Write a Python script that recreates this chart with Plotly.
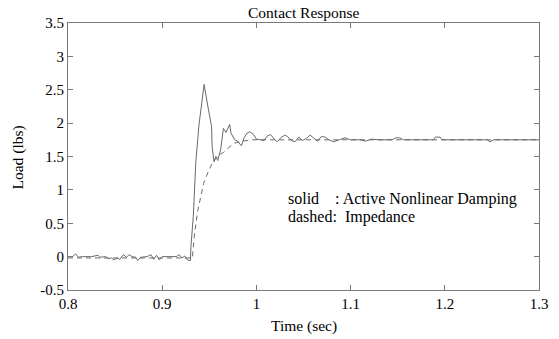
import plotly.graph_objects as go

# Solid: Active Nonlinear Damping
t_solid = [0.800, 0.805, 0.808, 0.811, 0.815, 0.825, 0.832, 0.834, 0.840, 0.843,
           0.846, 0.849, 0.852, 0.855, 0.859, 0.862, 0.865, 0.868, 0.872, 0.874,
           0.877, 0.884, 0.888, 0.891, 0.894, 0.897, 0.900, 0.910, 0.915, 0.918,
           0.921, 0.924, 0.927, 0.930, 0.9305, 0.933, 0.9357, 0.939, 0.9445, 0.9485,
           0.9524, 0.953, 0.955, 0.957, 0.959, 0.962, 0.965, 0.9677, 0.9716, 0.973,
           0.977, 0.980, 0.984, 0.987, 0.990, 0.993, 0.997, 1.000, 1.004, 1.008,
           1.011, 1.015, 1.019, 1.022, 1.026, 1.030, 1.033, 1.037, 1.041, 1.045,
           1.049, 1.053, 1.057, 1.061, 1.065, 1.069, 1.073, 1.077, 1.082, 1.088,
           1.094, 1.100, 1.110, 1.116, 1.122, 1.130, 1.144, 1.148, 1.152, 1.156,
           1.188, 1.190, 1.195, 1.197, 1.245, 1.248, 1.252, 1.300]
v_solid = [0.00, 0.00, 0.04, -0.01, 0.00, 0.00, 0.02, -0.01, 0.00, -0.03,
           -0.02, -0.05, -0.02, -0.04, 0.03, -0.01, 0.03, 0.00, -0.01, -0.06,
           -0.01, 0.00, 0.03, -0.04, 0.02, -0.05, 0.00, 0.00, 0.00, 0.03,
           -0.02, 0.01, -0.05, -0.06, 0.15, 0.60, 1.42, 1.97, 2.58, 2.25,
           1.95, 1.65, 1.42, 1.50, 1.44, 1.60, 1.92, 1.86, 1.98, 1.85,
           1.75, 1.73, 1.66, 1.78, 1.85, 1.87, 1.83, 1.76, 1.75, 1.74,
           1.80, 1.83, 1.76, 1.72, 1.78, 1.82, 1.80, 1.74, 1.72, 1.79,
           1.74, 1.77, 1.82, 1.78, 1.73, 1.80, 1.79, 1.75, 1.72, 1.75,
           1.78, 1.75, 1.75, 1.73, 1.76, 1.75, 1.75, 1.78, 1.78, 1.75,
           1.75, 1.79, 1.79, 1.75, 1.75, 1.72, 1.75, 1.75]

# Dashed: Impedance
t_dashed = [0.800, 0.932, 0.934, 0.9375, 0.9417, 0.944, 0.9497, 0.954, 0.960,
            0.965, 0.972, 0.977, 0.985, 0.995, 1.300]
v_dashed = [-0.02, -0.02, 0.30, 0.67, 0.95, 1.10, 1.30, 1.42, 1.52,
            1.56, 1.65, 1.70, 1.73, 1.75, 1.75]

x_ticks = [0.8, 0.9, 1.0, 1.1, 1.2, 1.3]
x_ticktext = ["0.8", "0.9", "1", "1.1", "1.2", "1.3"]
y_ticks = [-0.5, 0, 0.5, 1, 1.5, 2, 2.5, 3, 3.5]
y_ticktext = ["-0.5", "0", "0.5", "1", "1.5", "2", "2.5", "3", "3.5"]

FONT = "Liberation Serif, Times New Roman, serif"
LINE = "#6a6a6a"
AX = "#7a7a7a"

fig = go.Figure()
fig.add_trace(go.Scatter(x=t_solid, y=v_solid, mode="lines",
                         line=dict(color=LINE, width=1), showlegend=False))
fig.add_trace(go.Scatter(x=t_dashed, y=v_dashed, mode="lines",
                         line=dict(color=LINE, width=1, dash="5px,4px"), showlegend=False))

axis_common = dict(showgrid=False, zeroline=False, showline=True, linecolor=AX,
                   linewidth=1, mirror="allticks", ticks="inside", ticklen=5,
                   tickcolor=AX, tickfont=dict(family=FONT, size=15, color="black"))

fig.update_xaxes(range=[0.8, 1.3], tickvals=x_ticks, ticktext=x_ticktext, **axis_common)
fig.update_yaxes(range=[-0.5, 3.5], tickvals=y_ticks, ticktext=y_ticktext, **axis_common)

fig.add_annotation(x=1.031, y=0.863, xref="x", yref="y", xanchor="left", yanchor="middle",
                   text="solid\u00a0\u00a0\u00a0\u00a0: Active Nonlinear Damping", showarrow=False,
                   font=dict(family=FONT, size=16, color="black"))
fig.add_annotation(x=1.031, y=0.593, xref="x", yref="y", xanchor="left", yanchor="middle",
                   text="dashed:\u00a0\u00a0Impedance", showarrow=False,
                   font=dict(family=FONT, size=16, color="black"))

# Title and axis labels
fig.add_annotation(x=0.5, y=1, xref="paper", yref="paper", yshift=11, yanchor="middle",
                   text="Contact Response", showarrow=False,
                   font=dict(family=FONT, size=15.5, color="black"))
fig.add_annotation(x=0.5, y=0, xref="paper", yref="paper", yshift=-36, yanchor="middle",
                   text="Time (sec)", showarrow=False,
                   font=dict(family=FONT, size=15.5, color="black"))
fig.add_annotation(x=0, y=0.5, xref="paper", yref="paper", xshift=-51, xanchor="center",
                   yanchor="middle", textangle=-90, yshift=-1,
                   text="Load (lbs)", showarrow=False,
                   font=dict(family=FONT, size=15.5, color="black"))

fig.update_layout(width=559, height=339, margin=dict(l=68, r=11, t=23, b=49),
                  paper_bgcolor="white", plot_bgcolor="white",
                  font=dict(family=FONT, color="black"))

fig.write_html("out.html")
